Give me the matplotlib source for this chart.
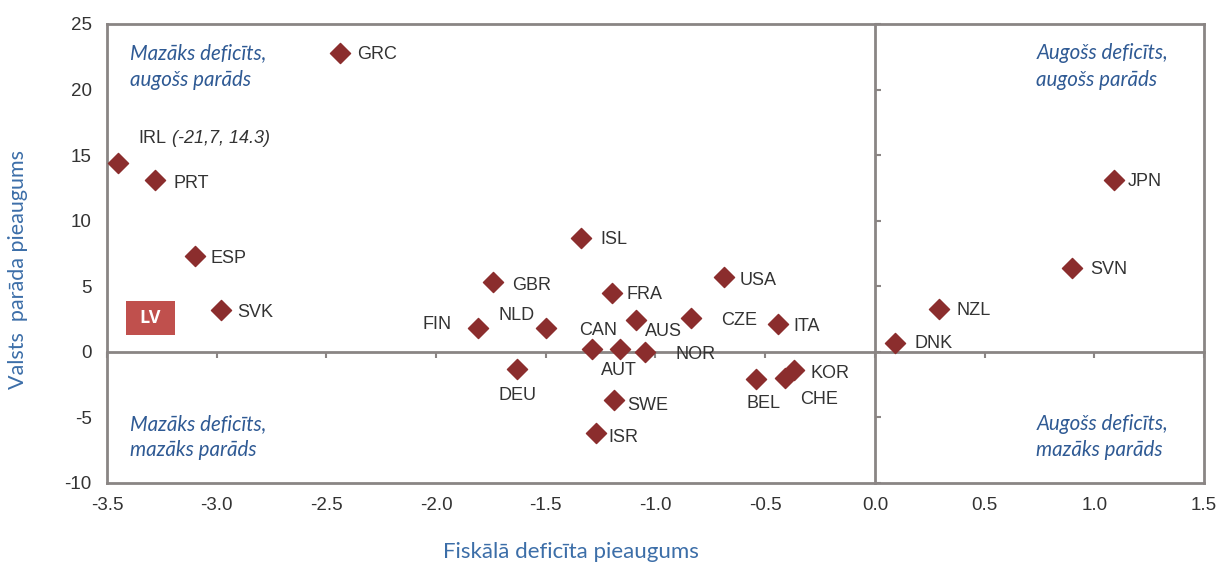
import matplotlib
matplotlib.use("Agg")
import matplotlib.pyplot as plt
from matplotlib.patches import Rectangle
import numpy as np

plt.rcParams['font.family'] = ['Liberation Sans', 'DejaVu Sans']
plt.rcParams['axes.unicode_minus'] = False

# Data: fiscal deficit change (x) vs. government debt change (y)
countries = ["GRC", "IRL", "PRT", "ESP", "SVK", "ISL", "GBR", "FRA", "USA",
             "FIN", "NLD", "CAN", "AUS", "AUT", "NOR", "CZE", "ITA", "DEU",
             "SWE", "ISR", "BEL", "CHE", "KOR", "DNK", "NZL", "SVN", "JPN"]
deficit = [-2.44, -3.45, -3.28, -3.10, -2.98, -1.34, -1.74, -1.20, -0.69,
           -1.81, -1.50, -1.29, -1.09, -1.16, -1.05, -0.84, -0.44, -1.63,
           -1.19, -1.27, -0.54, -0.41, -0.37, 0.09, 0.29, 0.90, 1.09]
debt = [22.8, 14.4, 13.1, 7.3, 3.2, 8.7, 5.3, 4.5, 5.7,
        1.8, 1.8, 0.2, 2.4, 0.2, 0.0, 2.6, 2.1, -1.3,
        -3.7, -6.2, -2.1, -2.0, -1.4, 0.7, 3.3, 6.4, 13.1]

x_ticks = [-3.5, -3.0, -2.5, -2.0, -1.5, -1.0, -0.5, 0.0, 0.5, 1.0, 1.5]
y_ticks = [-10, -5, 0, 5, 10, 15, 20, 25]

# label placement (offset in pixels, horizontal alignment)
label_pos = {
    "GRC": (18, -2, "left"), "IRL": (20, 25, "left"), "PRT": (18, -3, "left"),
    "ESP": (16, -2, "left"), "SVK": (16, -3, "left"), "ISL": (19, -2, "left"),
    "GBR": (19, -3, "left"), "FRA": (15, -2, "left"), "USA": (16, -3, "left"),
    "FIN": (-26, 4, "right"), "NLD": (-11, 13, "right"), "CAN": (6, 19, "center"),
    "AUS": (9, -11, "left"), "AUT": (-1, -21, "center"), "NOR": (31, -3, "left"),
    "CZE": (31, -3, "left"), "ITA": (15, -2, "left"), "DEU": (0, -27, "center"),
    "SWE": (13, -5, "left"), "ISR": (12, -4, "left"), "BEL": (7, -24, "center"),
    "CHE": (15, -21, "left"), "KOR": (17, -3, "left"), "DNK": (20, -1, "left"),
    "NZL": (18, -2, "left"), "SVN": (18, -2, "left"), "JPN": (14, -1, "left"),
}

grey = "#8a8584"
red = "#8b2d2d"
blue_q = "#2f5a94"
blue_ax = "#3c6ea8"

fig = plt.figure(figsize=(12.21, 5.62), dpi=100)
pos = [0.0876, 0.1406, 0.8985, 0.8167]
ax = fig.add_axes(pos)
ax.set_xlim(-3.5, 1.5)
ax.set_ylim(-10, 25)
ax.set_xticks(x_ticks)
ax.set_xticklabels([f"{v:.1f}" for v in x_ticks])
ax.set_yticks(y_ticks)
ax.tick_params(length=0, labelsize=13.5, colors="#333333")
ax.tick_params(axis="x", pad=10)
ax.tick_params(axis="y", pad=11)
for s in ax.spines.values():
    s.set_color(grey)
    s.set_linewidth(2)

# zero axes with small tick marks
ax2 = fig.add_axes(pos, sharex=ax, sharey=ax)
ax2.patch.set_visible(False)
ax2.spines["top"].set_visible(False)
ax2.spines["right"].set_visible(False)
ax2.spines["left"].set_position(("data", 0))
ax2.spines["bottom"].set_position(("data", 0))
for s in ("left", "bottom"):
    ax2.spines[s].set_color(grey)
    ax2.spines[s].set_linewidth(2)
ax2.tick_params(axis="x", direction="out", length=4, width=1.5, color=grey,
                labelbottom=False)
ax2.tick_params(axis="y", direction="in", length=4, width=1.5, color=grey,
                labelleft=False)

ax2.scatter(deficit, debt, marker="D", s=105, color=red, zorder=5, clip_on=False)

for c, x, y in zip(countries, deficit, debt):
    dx, dy, ha = label_pos[c]
    ax2.annotate(c, (x, y), xytext=(dx, dy), textcoords="offset pixels",
                 ha=ha, va="center", fontsize=13, color="#333333")
    if c == "IRL":
        ax2.annotate("(-21,7, 14.3)", (x, y), xytext=(54, 25),
                     textcoords="offset pixels", ha="left", va="center",
                     fontsize=13, style="italic", color="#333333")

qfont = dict(family="Lato", style="italic", fontsize=14.8, color=blue_q,
             linespacing=1.4, va="center", ha="left", transform=ax2.transAxes)
ax2.text(0.021, 0.907, "Mazāks deficīts,\naugošs parāds", **qfont)
ax2.text(0.847, 0.907, "Augošs deficīts,\naugošs parāds", **qfont)
ax2.text(0.021, 0.100, "Mazāks deficīts,\nmazāks parāds", **qfont)
ax2.text(0.847, 0.100, "Augošs deficīts,\nmazāks parāds", **qfont)

# LV marker box
ax2.add_patch(Rectangle((0.0173, 0.322), 0.0447, 0.074, transform=ax2.transAxes,
                        facecolor="#c0504d", edgecolor="none", zorder=6))
ax2.text(0.0397, 0.359, "LV", transform=ax2.transAxes, ha="center", va="center",
         fontsize=13, fontweight="bold", color="white", family="Open Sans", zorder=7)

fig.text(0.0147, 0.52, "Valsts  parāda pieaugums", rotation=90, ha="center",
         va="center", fontsize=15.5, color=blue_ax, family="Lato")
fig.text(0.4677, 0.018, "Fiskālā deficīta pieaugums", ha="center", va="center",
         fontsize=16, color=blue_ax, family="Lato")

fig.savefig("out.png", dpi=100)
